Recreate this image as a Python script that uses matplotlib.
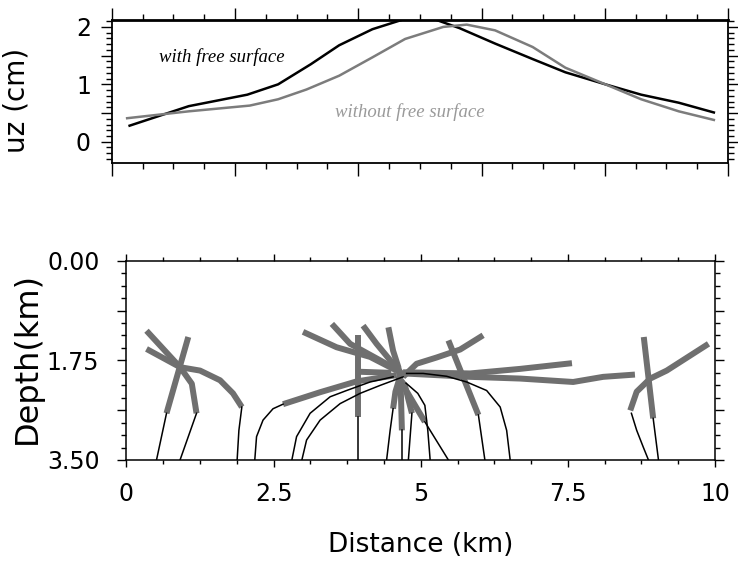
import matplotlib
matplotlib.use("Agg")
import matplotlib.pyplot as plt
from matplotlib.ticker import MultipleLocator, FuncFormatter

# surface displacement (top panel)
with_x = [0.29, 1.25, 2.20, 2.70, 3.23, 3.69, 4.23, 4.76, 5.22, 5.64, 6.22,
          6.83, 7.36, 8.01, 8.59, 9.20, 9.77]
with_uz = [0.28, 0.62, 0.82, 1.00, 1.35, 1.68, 1.96, 2.14, 2.14, 1.98, 1.71,
           1.44, 1.21, 1.00, 0.82, 0.68, 0.51]
without_x = [0.25, 1.25, 2.24, 2.70, 3.16, 3.69, 4.23, 4.76, 5.38, 5.76, 6.22,
             6.83, 7.36, 8.01, 8.59, 9.20, 9.77]
without_uz = [0.41, 0.53, 0.63, 0.74, 0.91, 1.15, 1.47, 1.79, 2.00, 2.04, 1.94,
              1.65, 1.29, 1.00, 0.74, 0.53, 0.38]

# ray paths (bottom panel): (distance, depth) polylines
left_black = [
    ([0.51, 0.68], [3.50, 2.68]),
    ([0.91, 1.05, 1.19], [3.50, 3.09, 2.68]),
    ([1.88, 1.91, 1.96], [3.50, 2.98, 2.57]),
]
left_gray = [
    ([0.68, 1.05], [2.68, 1.34]),
    ([1.19, 1.11, 0.91, 0.34], [2.68, 2.16, 1.87, 1.55]),
    ([1.96, 1.81, 1.59, 1.25, 0.91, 0.34], [2.57, 2.33, 2.10, 1.93, 1.87, 1.23]),
]
mid_black = [
    ([2.18, 2.21, 2.32, 2.49, 2.66], [3.50, 3.09, 2.80, 2.60, 2.52]),
    ([2.81, 2.89, 3.12, 3.46, 3.74, 4.14, 4.53], [3.50, 3.09, 2.68, 2.39, 2.28, 2.13, 2.04]),
    ([2.98, 3.06, 3.29, 3.63, 3.97, 4.31, 4.70], [3.50, 3.15, 2.80, 2.51, 2.33, 2.19, 2.04]),
    ([3.94, 3.94], [3.50, 2.74]),
    ([4.42, 4.48, 4.53], [3.50, 2.98, 2.60]),
    ([4.68, 4.68], [3.50, 2.98]),
    ([4.79, 4.85], [3.50, 2.68]),
    ([5.16, 5.12, 5.07, 4.95, 4.75], [3.50, 2.98, 2.54, 2.33, 2.15]),
    ([5.47, 5.07], [3.50, 2.83]),
    ([4.76, 5.04, 5.44, 5.78, 6.12, 6.35, 6.46, 6.52], [1.98, 1.98, 2.03, 2.13, 2.28, 2.57, 2.98, 3.50]),
    ([6.09, 5.98], [3.50, 2.71]),
]
mid_gray = [
    ([2.66, 3.29, 3.91, 4.59], [2.52, 2.31, 2.12, 2.01]),
    ([3.94, 3.94], [2.74, 1.31]),
    ([3.94, 4.50], [1.95, 1.97]),
    ([3.00, 3.57, 4.14, 4.59], [1.25, 1.52, 1.69, 1.93]),
    ([3.49, 3.80, 4.31, 4.65], [1.11, 1.46, 1.75, 1.95]),
    ([4.02, 4.25, 4.53, 4.70], [1.14, 1.46, 1.81, 2.01]),
    ([4.45, 4.53, 4.62, 4.66, 4.68], [1.17, 1.58, 1.87, 2.22, 2.98]),
    ([4.53, 4.57, 4.65], [2.60, 2.30, 2.03]),
    ([4.85, 4.73, 4.61], [2.68, 2.19, 2.03]),
    ([5.07, 4.65], [2.83, 2.10]),
    ([5.98, 5.47], [2.71, 1.40]),
    ([4.70, 4.93, 5.27, 5.67, 6.06], [2.04, 1.81, 1.70, 1.56, 1.31]),
    ([4.70, 5.84, 6.69, 7.57], [1.96, 1.98, 1.90, 1.80]),
    ([4.70, 5.84, 6.69, 7.59, 8.10, 8.64], [1.98, 2.04, 2.07, 2.13, 2.04, 2.00]),
]
right_black = [
    ([9.04, 8.95], [3.50, 2.77]),
    ([8.87, 8.78, 8.67, 8.58], [3.50, 3.27, 2.98, 2.68]),
]
right_gray = [
    ([8.95, 8.79], [2.77, 1.34]),
    ([8.56, 8.67, 8.90, 9.18, 9.89], [2.63, 2.30, 2.07, 1.93, 1.46]),
]

depth_ticks = [0.0, 1.75, 3.5]
depth_labels = ["0.00", "1.75", "3.50"]
dist_ticks = [0, 2.5, 5, 7.5, 10]
dist_labels = ["0", "2.5", "5", "7.5", "10"]

plt.rcParams['font.family'] = 'DejaVu Sans'
GRAY = '#6f6f6f'

fig = plt.figure(figsize=(7.38, 5.77), dpi=100)
ax1 = fig.add_axes([0.1514, 0.7175, 0.8351, 0.2478])
ax2 = fig.add_axes([0.1714, 0.2028, 0.7974, 0.3454])

# top panel
ax1.plot(with_x, with_uz, color='black', lw=1.8)
ax1.plot(without_x, without_uz, color='#7c7c7c', lw=1.8)
ax1.set_xlim(0, 10)
ax1.set_ylim(-0.37, 2.12)
ax1.xaxis.set_major_locator(MultipleLocator(2))
ax1.xaxis.set_minor_locator(MultipleLocator(0.5))
ax1.yaxis.set_major_locator(MultipleLocator(0.5))
ax1.yaxis.set_minor_locator(MultipleLocator(0.1))
ax1.yaxis.set_major_formatter(
    FuncFormatter(lambda v, p: "%d" % round(v) if abs(v - round(v)) < 1e-6 else ""))
ax1.tick_params(which='both', direction='out', top=True, right=True,
                labelbottom=False, width=1.0)
ax1.tick_params(axis='x', which='major', length=9)
ax1.tick_params(axis='x', which='minor', length=4.5)
ax1.tick_params(axis='y', which='major', length=8, labelsize=17, pad=7)
ax1.tick_params(axis='y', which='minor', length=4.5)
for s in ax1.spines.values():
    s.set_linewidth(1.3)
ax1.spines['top'].set_linewidth(2.0)
ax1.text(1.79, 1.47, "with free surface", family='Liberation Serif',
         style='italic', fontsize=13.5, ha='center', va='center', color='black')
ax1.text(4.84, 0.52, "without free surface", family='Liberation Serif',
         style='italic', fontsize=13.5, ha='center', va='center', color='#9a9a9a')

# bottom panel
for xs, ds in left_gray + mid_gray + right_gray:
    ax2.plot(xs, ds, color=GRAY, lw=4.3, solid_capstyle='butt', zorder=2)
for xs, ds in left_black + mid_black + right_black:
    ax2.plot(xs, ds, color='black', lw=1.1, zorder=3)
ax2.set_xlim(0, 10)
ax2.set_ylim(3.5, 0)
ax2.set_xticks(dist_ticks)
ax2.set_xticklabels(dist_labels)
ax2.xaxis.set_minor_locator(MultipleLocator(0.625))
ax2.set_yticks([0, 0.875, 1.75, 2.625, 3.5])
ax2.set_yticklabels([depth_labels[0], "", depth_labels[1], "", depth_labels[2]])
ax2.yaxis.set_minor_locator(MultipleLocator(0.21875))
ax2.tick_params(which='both', direction='out', top=True, right=True, width=1.0)
ax2.tick_params(axis='x', which='major', length=5, labelsize=17, pad=11)
ax2.tick_params(axis='x', which='minor', length=3)
ax2.tick_params(axis='y', which='major', length=6.5, labelsize=17, pad=13)
ax2.tick_params(axis='y', which='minor', length=3.4)
for s in ax2.spines.values():
    s.set_linewidth(1.1)

fig.text(17 / 738, 1 - 100 / 577, "uz (cm)", rotation=90, ha='center',
         va='center', fontsize=20)
fig.text(27 / 738, 1 - 358 / 577, "Depth(km)", rotation=90, ha='center',
         va='center', fontsize=23)
fig.text(421 / 738, 1 - 545 / 577, "Distance (km)", ha='center', va='center',
         fontsize=19)

fig.savefig("out.png", dpi=100)
